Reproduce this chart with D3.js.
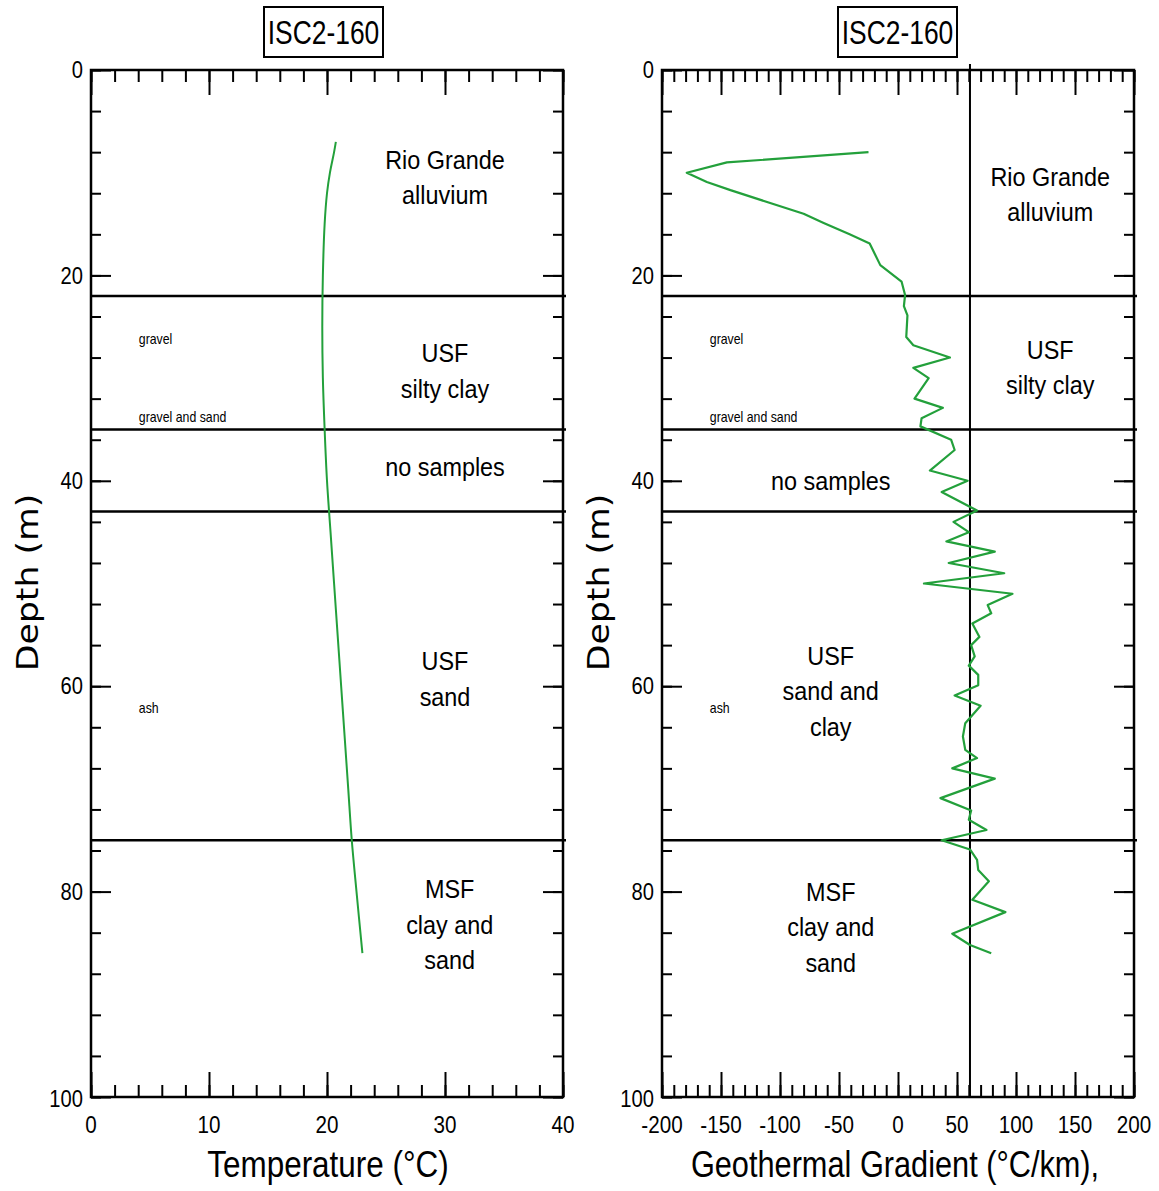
<!DOCTYPE html>
<html>
<head>
<meta charset="utf-8">
<script src="https://cdn.jsdelivr.net/npm/d3@7"></script>
<style>
  body { margin: 0; background: #fff; }
  svg text { fill: #000; }
</style>
</head>
<body>
<svg id="chart" width="1159" height="1191"></svg>
<script>
// ---- Borehole ISC2-160 data ----
const wellName = "ISC2-160";

// Temperature log (depth in m, temperature in °C)
const tempDepth = [7, 8, 10, 12, 15, 20, 25, 30, 35, 40, 45, 50, 55, 60, 65, 70, 75, 80, 86];
const tempValue = [20.75, 20.6, 20.25, 20.0, 19.8, 19.65, 19.6, 19.65, 19.8, 20.0, 20.3, 20.6, 20.9, 21.2, 21.5, 21.8, 22.1, 22.5, 23.0];

// Interval geothermal gradient (depth in m, gradient in °C/km)
const gradDepth = [8.0, 9.0, 10.0, 10.9, 11.7, 14.0, 14.9, 16.0, 16.9, 19.0, 20.6, 21.9, 23.0, 23.9, 26.0, 26.8,
  28.0, 29.0, 30.0, 32.0, 32.9, 33.9, 34.7, 36.0, 37.0, 39.0, 40.0, 41.1, 42.9, 44.0, 45.0, 45.9, 46.9, 48.0,
  49.0, 50.0, 51.0, 52.1, 52.9, 53.9, 55.2, 56.0, 57.1, 58.0, 58.9, 59.9, 60.9, 61.9, 63.6, 64.9, 66.2, 67.0,
  68.0, 69.0, 70.9, 72.1, 73.0, 74.0, 75.0, 75.9, 76.9, 77.9, 79.0, 80.8, 82.0, 84.1, 85.2, 86.0];
const gradValue = [-25, -145, -179, -162, -142, -80, -63, -41, -24, -15, 3, 6, 5, 8, 7, 13,
  44, 13, 26, 14, 38, 20, 19, 45, 48, 27, 59, 37, 67, 47, 60, 41, 82, 43,
  90, 22, 97, 76, 79, 63, 69, 62, 65, 60, 68, 68, 48, 70, 57, 55, 57, 67,
  46, 82, 36, 62, 60, 75, 37, 61, 67, 68, 77, 63, 91, 46, 61, 79];

// Mean gradient reference line (°C/km)
const meanGradient = 61;

// Unit boundaries (m)
const boundaries = [22, 35, 43, 75];

// Axis ticks
const depthMajor = [0, 20, 40, 60, 80, 100];
const depthMinor = d3.range(0, 101, 4);
const tempMajor = [0, 10, 20, 30, 40];
const tempMinor = d3.range(0, 41, 2);
const gradMajor = [-200, -150, -100, -50, 0, 50, 100, 150, 200];
const gradMinor = d3.range(-200, 201, 10);

// Unit names (lines of text) with the depth of the first line
const tempUnits = [
  { lines: ["Rio Grande", "alluvium"], depth: 8.76, at: 30 },
  { lines: ["USF", "silty clay"], depth: 27.56, at: 30 },
  { lines: ["no samples"], depth: 38.66, at: 30 },
  { lines: ["USF", "sand"], depth: 57.55, at: 30 },
  { lines: ["MSF", "clay and", "sand"], depth: 79.75, at: 30.4 }
];
const gradUnits = [
  { lines: ["Rio Grande", "alluvium"], depth: 10.42, at: 129 },
  { lines: ["USF", "silty clay"], depth: 27.26, at: 129 },
  { lines: ["no samples"], depth: 40.02, at: -57 },
  { lines: ["USF", "sand and", "clay"], depth: 57.06, at: -57 },
  { lines: ["MSF", "clay and", "sand"], depth: 80.04, at: -57 }
];
// Lithology notes
const notes = [
  { text: "gravel", depth: 26.2 },
  { text: "gravel and sand", depth: 33.8 },
  { text: "ash", depth: 62.1 }
];
const tempNoteAt = 4.05;
const gradNoteAt = -159.5;

// ---- Layout ----
const svg = d3.select("#chart");
const plotTop = 70, plotBottom = 1097;
const y = d3.scaleLinear().domain([0, 100]).range([plotTop, plotBottom]);
const xT = d3.scaleLinear().domain([0, 40]).range([91, 563]);
const xG = d3.scaleLinear().domain([-200, 200]).range([662, 1134]);
const lineStep = 3.46; // metres between stacked label lines
const green = "#23a03b";
const font = "'Liberation Sans', Arial, sans-serif";

// text squeezed horizontally to mimic a condensed face
function label(g, x, yy, s, size, sx, anchor) {
  return g.append("text")
    .attr("transform", `translate(${x},${yy}) scale(${sx},1)`)
    .attr("text-anchor", anchor)
    .attr("dominant-baseline", "central")
    .style("font-family", font)
    .style("font-size", size + "px")
    .text(s);
}

function drawPanel(x, cfg) {
  const g = svg.append("g");
  const [x0, x1] = x.range();

  // inward ticks on all four sides
  const tick = (axis, tr, size, vals) => {
    const a = g.append("g").attr("transform", tr)
      .call(axis.tickValues(vals).tickSize(size).tickFormat(""));
    a.select(".domain").remove();
    a.selectAll("line").attr("stroke", "#000").attr("stroke-width", 2);
  };
  tick(d3.axisBottom(x), `translate(0,${plotTop})`, 12, cfg.xMinor);
  tick(d3.axisBottom(x), `translate(0,${plotTop})`, 25, cfg.xMajor);
  tick(d3.axisTop(x), `translate(0,${plotBottom})`, 12, cfg.xMinor);
  tick(d3.axisTop(x), `translate(0,${plotBottom})`, 25, cfg.xMajor);
  tick(d3.axisRight(y), `translate(${x0},0)`, 10, depthMinor);
  tick(d3.axisRight(y), `translate(${x0},0)`, 20, depthMajor);
  tick(d3.axisLeft(y), `translate(${x1},0)`, 10, depthMinor);
  tick(d3.axisLeft(y), `translate(${x1},0)`, 20, depthMajor);

  // frame
  g.append("rect").attr("x", x0).attr("y", plotTop)
    .attr("width", x1 - x0).attr("height", plotBottom - plotTop)
    .attr("fill", "none").attr("stroke", "#000").attr("stroke-width", 2.5);

  // unit boundaries
  g.selectAll(".bound").data(boundaries).join("line")
    .attr("x1", x0).attr("x2", x1 + 3)
    .attr("y1", d => y(d)).attr("y2", d => y(d))
    .attr("stroke", "#000").attr("stroke-width", 2.5);

  // tick labels
  depthMajor.forEach(d => label(g, x0 - 8, y(d) + (d === 100 ? 2 : 0), d, 24, 0.84, "end"));
  cfg.xMajor.forEach(v => label(g, x(v), 1125, v, 24, 0.86, "middle"));

  // depth label
  g.append("text")
    .attr("transform", `translate(${x0 - 53},${y(49.9)}) rotate(-90) scale(1.12,1)`)
    .attr("text-anchor", "middle")
    .style("font-family", "'DejaVu Sans', Verdana, sans-serif")
    .style("font-size", "31px")
    .text("Depth (m)");

  // x-axis title
  label(g, cfg.titleX, 1164, cfg.title, 37, cfg.titleScale, "middle");

  // well name box
  const bx = cfg.boxX;
  g.append("rect").attr("x", bx - 59.5).attr("y", 7).attr("width", 119).attr("height", 50)
    .attr("fill", "#fff").attr("stroke", "#000").attr("stroke-width", 2);
  label(g, bx, 32, wellName, 33, 0.8, "middle");

  // unit names
  cfg.units.forEach(u => u.lines.forEach((s, i) =>
    label(g, x(u.at), y(u.depth + i * lineStep), s, 26, 0.9, "middle")));
  notes.forEach(n => label(g, x(cfg.noteAt), y(n.depth), n.text, 14, 0.88, "start"));
  return g;
}

const gT = drawPanel(xT, {
  xMajor: tempMajor, xMinor: tempMinor,
  title: "Temperature (°C)", titleX: 328, titleScale: 0.85,
  boxX: 323.5, units: tempUnits, noteAt: tempNoteAt
});
const gG = drawPanel(xG, {
  xMajor: gradMajor, xMinor: gradMinor,
  title: "Geothermal Gradient (°C/km),", titleX: 895, titleScale: 0.83,
  boxX: 897.5, units: gradUnits, noteAt: gradNoteAt
});

// mean gradient reference
gG.append("line")
  .attr("x1", xG(meanGradient)).attr("x2", xG(meanGradient))
  .attr("y1", plotTop - 6).attr("y2", plotBottom)
  .attr("stroke", "#000").attr("stroke-width", 2);

// temperature profile
const tempPts = tempDepth.map((d, i) => [tempValue[i], d]);
gT.append("path")
  .attr("d", d3.line().x(p => xT(p[0])).y(p => y(p[1])).curve(d3.curveCatmullRom)(tempPts))
  .attr("fill", "none").attr("stroke", green).attr("stroke-width", 2);

// gradient profile
const gradPts = gradDepth.map((d, i) => [gradValue[i], d]);
gG.append("path")
  .attr("d", d3.line().x(p => xG(p[0])).y(p => y(p[1]))(gradPts))
  .attr("fill", "none").attr("stroke", green).attr("stroke-width", 2.2)
  .attr("stroke-linejoin", "round");
</script>
</body>
</html>
